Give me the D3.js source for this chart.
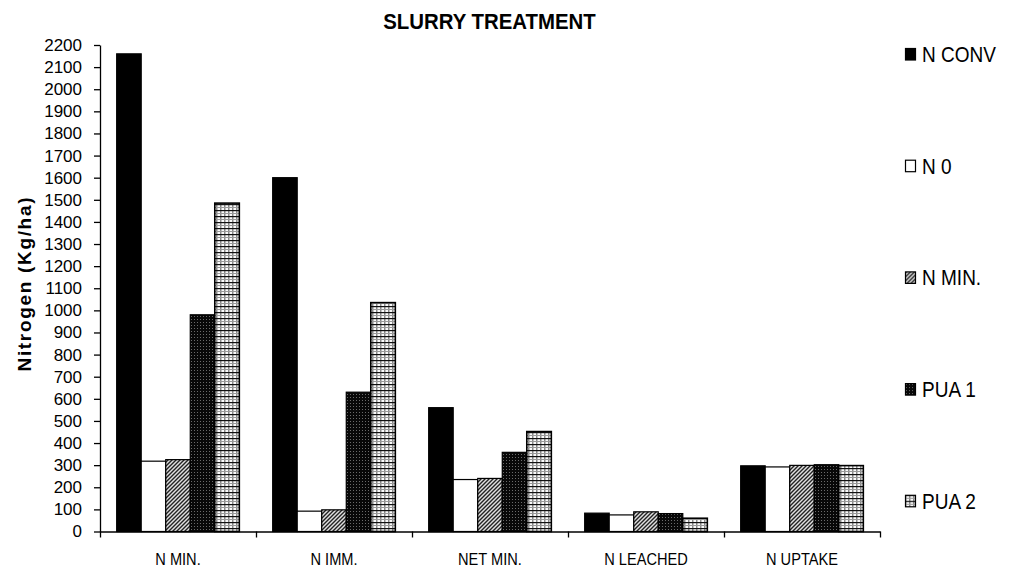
<!DOCTYPE html>
<html>
<head>
<meta charset="utf-8">
<script src="https://cdn.jsdelivr.net/npm/d3@7"></script>
<style>
  html, body { margin: 0; padding: 0; background: #fff; }
  svg { display: block; font-family: "Liberation Sans", Arial, sans-serif; }
</style>
</head>
<body>
<svg id="chart" width="1013" height="573"></svg>
<script>
// Nitrogen balance per slurry treatment (kg/ha)
const categories = ["N MIN.", "N IMM.", "NET MIN.", "N LEACHED", "N UPTAKE"];
const seriesNames = ["N CONV", "N 0", "N MIN.", "PUA 1", "PUA 2"];
const nConv = [2160, 1600, 560, 83, 297];
const n0    = [318, 92, 235, 75, 292];
const nMin  = [325, 98, 240, 89, 299];
const pua1  = [980, 630, 358, 81, 302];
const pua2  = [1485, 1035, 452, 60, 298];
const yTicks = [0, 100, 200, 300, 400, 500, 600, 700, 800, 900, 1000, 1100,
                1200, 1300, 1400, 1500, 1600, 1700, 1800, 1900, 2000, 2100, 2200];

const seriesValues = [nConv, n0, nMin, pua1, pua2];
const fills = ["#000", "#fff", "url(#hatch)", "url(#dots)", "url(#plaid)"];

const svg = d3.select("#chart");
const plotLeft = 100, plotRight = 880, plotTop = 45, plotBottom = 531.5;

// fill patterns
const defs = svg.append("defs");
const hatch = defs.append("pattern").attr("id", "hatch")
  .attr("patternUnits", "userSpaceOnUse").attr("width", 4).attr("height", 4);
hatch.append("rect").attr("width", 4).attr("height", 4).attr("fill", "#e0e0e0");
hatch.append("path").attr("d", "M-1,1 L1,-1 M0,4 L4,0 M3,5 L5,3")
  .attr("stroke", "#222").attr("stroke-width", 1.4);

const dots = defs.append("pattern").attr("id", "dots")
  .attr("patternUnits", "userSpaceOnUse").attr("width", 3).attr("height", 3);
dots.append("rect").attr("width", 3).attr("height", 3).attr("fill", "#080808");
dots.append("rect").attr("x", 1).attr("y", 1).attr("width", 1).attr("height", 1).attr("fill", "#6a6a6a");

const plaid = defs.append("pattern").attr("id", "plaid")
  .attr("patternUnits", "userSpaceOnUse").attr("width", 4).attr("height", 6);
plaid.append("rect").attr("width", 4).attr("height", 6).attr("fill", "#fafafa");
plaid.append("rect").attr("x", 0).attr("y", 0).attr("width", 1.5).attr("height", 6).attr("fill", "#8a8a8a");
plaid.append("rect").attr("x", 0).attr("y", 3).attr("width", 4).attr("height", 1).attr("fill", "#9a9a9a");
plaid.append("rect").attr("x", 0).attr("y", 0).attr("width", 4).attr("height", 1.2).attr("fill", "#111");

// scales
const x0 = d3.scaleBand().domain(categories).range([plotLeft, plotRight]).paddingInner(0).paddingOuter(0);
const x1 = d3.scaleBand().domain(seriesNames).range([0, x0.bandwidth()])
  .paddingInner(0).paddingOuter(0.68);
const y = d3.scaleLinear().domain([0, 2200]).range([plotBottom, plotTop]);

// bars
const groups = svg.append("g").selectAll("g")
  .data(categories).join("g")
  .attr("transform", d => `translate(${x0(d)},0)`);

groups.selectAll("rect")
  .data((c, ci) => seriesNames.map((s, si) => ({ s, si, v: seriesValues[si][ci] })))
  .join("rect")
  .attr("x", d => x1(d.s))
  .attr("y", d => y(d.v))
  .attr("width", x1.bandwidth())
  .attr("height", d => y(0) - y(d.v))
  .attr("fill", d => fills[d.si])
  .attr("stroke", "#000")
  .attr("stroke-width", d => d.si === 4 ? 1.6 : 1.2);

// y axis
const yAxis = svg.append("g").attr("transform", `translate(${plotLeft},0)`)
  .call(d3.axisLeft(y).tickValues(yTicks).tickSize(6).tickSizeOuter(0).tickPadding(12).tickFormat(d3.format("d")));
yAxis.select(".domain").attr("stroke", "#000").attr("stroke-width", 1.3);
yAxis.selectAll(".tick line").attr("stroke", "#000").attr("stroke-width", 1.3);
yAxis.selectAll(".tick text").attr("font-size", 17).attr("fill", "#000")
  .attr("font-family", "'Liberation Sans', Arial, sans-serif");

// x axis with tick marks between categories
const xEdge = d3.scaleLinear().domain([0, categories.length]).range([plotLeft, plotRight]);
const xAxis = svg.append("g").attr("transform", `translate(0,${plotBottom})`)
  .call(d3.axisBottom(xEdge).tickValues(d3.range(0, categories.length + 1)).tickSize(6).tickSizeOuter(0).tickFormat(""));
xAxis.select(".domain").attr("stroke", "#000").attr("stroke-width", 1.3);
xAxis.selectAll(".tick line").attr("stroke", "#000").attr("stroke-width", 1.3);

// category labels
svg.append("g").selectAll("text").data(categories).join("text")
  .attr("transform", d => `translate(${x0(d) + x0.bandwidth() / 2},565) scale(0.86,1)`)
  .attr("text-anchor", "middle").attr("font-size", 17).attr("fill", "#000")
  .text(d => d);

// title
svg.append("text")
  .attr("transform", "translate(489.5,29) scale(0.927,1)")
  .attr("text-anchor", "middle").attr("font-size", 22).attr("font-weight", "bold")
  .text("SLURRY TREATMENT");

// y axis title
svg.append("text")
  .attr("transform", "translate(31,284.5) rotate(-90)")
  .attr("text-anchor", "middle").attr("font-size", 19).attr("font-weight", "bold")
  .attr("textLength", 174).attr("lengthAdjust", "spacing")
  .text("Nitrogen (Kg/ha)");

// legend
const legend = svg.append("g").selectAll("g").data(seriesNames).join("g")
  .attr("transform", (d, i) => `translate(905,${54 + i * 111.7})`);
legend.append("rect")
  .attr("x", 0.5).attr("y", -5.5).attr("width", 10).attr("height", 11.5)
  .attr("fill", (d, i) => fills[i]).attr("stroke", "#000").attr("stroke-width", 1.2);
legend.append("text")
  .attr("transform", "translate(17,8) scale(0.865,1)")
  .attr("font-size", 22).attr("fill", "#000")
  .text(d => d);
</script>
</body>
</html>
